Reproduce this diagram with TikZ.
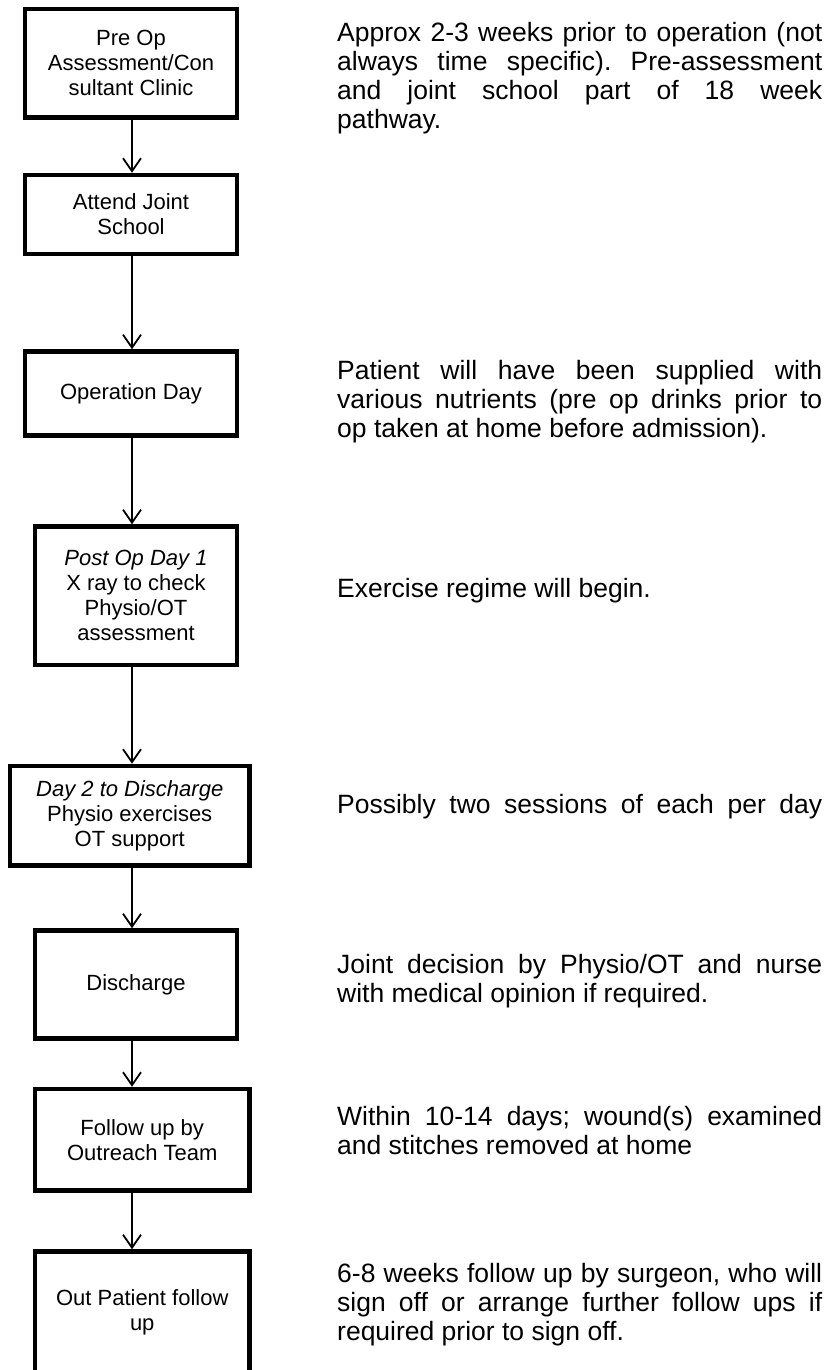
\documentclass[tikz,border=0pt]{standalone}
\usepackage{fontspec}
\setmainfont{Liberation Sans}
\usetikzlibrary{arrows.meta}
\newcommand{\jline}[1]{\makebox[485pt][s]{#1}}
\frenchspacing
\begin{document}
\begin{tikzpicture}[x=1pt,y=-1pt,
  flowbox/.style={draw=black, line width=4.5pt, inner sep=0pt, align=center, font=\fontsize{22}{25}\selectfont},
  arr/.style={line width=1.8pt, -{Straight Barb[length=13pt,width=18pt,line width=1.8pt]}},
  note/.style={anchor=base west, inner sep=0pt, font=\fontsize{26.5}{29}\selectfont}
]
\useasboundingbox (0,0) rectangle (828,1370);
\fill[white] (0,0) rectangle (828,1370);
\coordinate (ax) at (132,0);

% flow boxes
\node[flowbox, minimum width=212pt, minimum height=108.5pt] (b1) at (131,63.25) {Pre Op\\Assessment/Con\\sultant Clinic};
\node[flowbox, minimum width=212pt, minimum height=79pt] (b2) at (131,214.5) {Attend Joint\\School};
\node[flowbox, minimum width=212pt, minimum height=84pt] (b3) at (131,393.5) {Operation Day};
\node[flowbox, minimum width=202pt, minimum height=138.5pt] (b4) at (136,595.75) {\textit{Post Op Day 1}\\X ray to check\\Physio/OT\\assessment};
\node[flowbox, minimum width=239.5pt, minimum height=99.5pt] (b5) at (129.75,815.75) {\textit{Day 2 to Discharge}\\Physio exercises\\OT support};
\node[flowbox, minimum width=202pt, minimum height=108pt] (b6) at (136,984.5) {Discharge};
\node[flowbox, minimum width=214.5pt, minimum height=101.5pt] (b7) at (142.25,1139.75) {Follow up by\\Outreach Team};
\node[flowbox, minimum width=214.5pt, minimum height=122pt] (b8) at (142.25,1312.5) {Out Patient follow\\up};

% connectors
\draw[arr] (b1.south -| ax) -- (b2.north -| ax);
\draw[arr] (b2.south -| ax) -- (b3.north -| ax);
\draw[arr] (b3.south -| ax) -- (b4.north -| ax);
\draw[arr] (b4.south -| ax) -- (b5.north -| ax);
\draw[arr] (b5.south -| ax) -- (b6.north -| ax);
\draw[arr] (b6.south -| ax) -- (b7.north -| ax);
\draw[arr] (b7.south -| ax) -- (b8.north -| ax);

% notes
\node[note] (t1) at (337,42) {\parbox[t]{485pt}{\jline{Approx 2-3 weeks prior to operation (not}\\\jline{always time specific). Pre-assessment}\\\jline{and joint school part of 18 week}\\pathway.}};
\node[note] (t2) at (337,379.5) {\parbox[t]{485pt}{\jline{Patient will have been supplied with}\\\jline{various nutrients (pre op drinks prior to}\\op taken at home before admission).}};
\node[note] (t3) at (337,597) {Exercise regime will begin.};
\node[note] (t4) at (337,813) {\jline{Possibly two sessions of each per day}};
\node[note] (t5) at (337,973) {\parbox[t]{485pt}{\jline{Joint decision by Physio/OT and nurse}\\with medical opinion if required.}};
\node[note] (t6) at (337,1125) {\parbox[t]{485pt}{\jline{Within 10-14 days; wound(s) examined}\\and stitches removed at home}};
\node[note] (t7) at (337,1282) {\parbox[t]{485pt}{\jline{6-8 weeks follow up by surgeon, who will}\\\jline{sign off or arrange further follow ups if}\\required prior to sign off.}};
\end{tikzpicture}
\end{document}
